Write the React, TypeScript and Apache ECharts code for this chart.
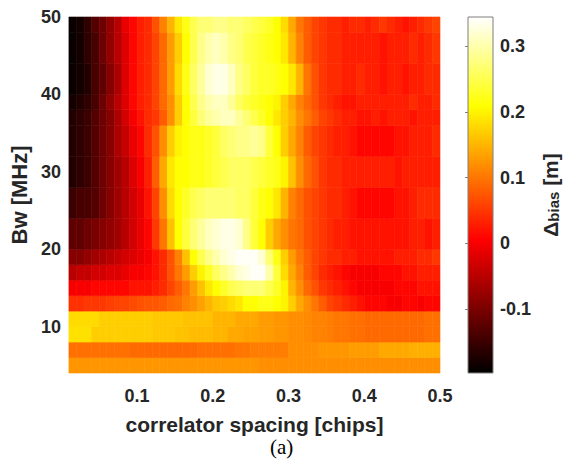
import React, { useEffect, useRef } from "react";
import * as echarts from "echarts";

// column edges (correlator spacing, chips) and row edges (Bw, MHz)
const xEdges = [0.01, 0.02, 0.03, 0.04, 0.05, 0.06, 0.07, 0.08, 0.09, 0.1,
  0.11, 0.12, 0.13, 0.14, 0.15, 0.16, 0.17, 0.18, 0.19, 0.2,
  0.21, 0.22, 0.23, 0.24, 0.25, 0.26, 0.27, 0.28, 0.29, 0.3,
  0.31, 0.32, 0.33, 0.34, 0.35, 0.36, 0.37, 0.38, 0.39, 0.4,
  0.41, 0.42, 0.43, 0.44, 0.45, 0.46, 0.47, 0.48, 0.49, 0.5];
const yEdges = [4, 6, 8, 10, 12, 14, 16, 18, 20, 24, 28, 32, 36, 38, 40, 44, 48, 50];

const xTicks = [0.1, 0.2, 0.3, 0.4, 0.5];
const yTicks = [10, 20, 30, 40, 50];
const cbTicks = [-0.1, 0, 0.1, 0.2, 0.3];
const cMin = -0.197;
const cMax = 0.344;

// Delta_bias [m] per row (row named by its lower Bw edge)
const row04 = [0.125,0.125,0.125,0.125,0.125,0.125,0.125,0.125,0.125,0.125,0.125,0.125,0.125,0.125,0.125,0.125,0.125,0.125,0.125,0.125,0.125,0.125,0.125,0.125,0.125,0.12,0.12,0.12,0.12,0.12,0.12,0.12,0.12,0.12,0.12,0.12,0.12,0.12,0.12,0.12,0.12,0.12,0.12,0.12,0.12,0.12,0.12,0.12,0.12];
const row06 = [0.095,0.095,0.095,0.095,0.095,0.095,0.095,0.095,0.09,0.09,0.09,0.09,0.09,0.09,0.09,0.09,0.09,0.095,0.095,0.095,0.095,0.095,0.1,0.1,0.105,0.105,0.105,0.105,0.105,0.12,0.12,0.12,0.12,0.125,0.125,0.125,0.125,0.13,0.13,0.13,0.13,0.14,0.14,0.14,0.14,0.145,0.145,0.145,0.145];
const row08 = [0.185,0.185,0.185,0.17,0.17,0.17,0.17,0.17,0.17,0.17,0.17,0.165,0.165,0.165,0.16,0.16,0.155,0.155,0.155,0.15,0.15,0.14,0.14,0.135,0.135,0.13,0.13,0.125,0.125,0.12,0.12,0.115,0.11,0.11,0.105,0.1,0.1,0.095,0.095,0.09,0.09,0.09,0.09,0.09,0.09,0.09,0.09,0.095,0.095];
const row10 = [0.18,0.18,0.18,0.18,0.17,0.17,0.17,0.17,0.17,0.17,0.17,0.165,0.165,0.165,0.165,0.16,0.16,0.16,0.16,0.15,0.15,0.15,0.14,0.14,0.14,0.13,0.13,0.125,0.125,0.12,0.12,0.115,0.11,0.11,0.105,0.1,0.1,0.095,0.095,0.09,0.09,0.09,0.09,0.09,0.09,0.09,0.09,0.095,0.095];
const row12 = [0.045,0.045,0.05,0.05,0.05,0.055,0.06,0.06,0.065,0.07,0.075,0.075,0.08,0.09,0.095,0.11,0.12,0.135,0.15,0.165,0.17,0.18,0.19,0.21,0.21,0.22,0.22,0.21,0.2,0.17,0.14,0.12,0.1,0.08,0.06,0.05,0.04,0.03,0.02,0.01,0.01,0.01,0.0,0.0,0.01,0.01,0.0,0.01,0.01];
const row14 = [0.0,0.0,0.0,0.01,0.01,0.01,0.01,0.01,0.02,0.02,0.02,0.03,0.04,0.06,0.08,0.1,0.13,0.16,0.19,0.21,0.23,0.25,0.26,0.27,0.27,0.27,0.25,0.23,0.2,0.15,0.12,0.09,0.07,0.05,0.04,0.03,0.02,0.01,0.0,0.0,0.0,0.0,0.0,0.01,0.01,0.01,0.02,0.02,0.02];
const row16 = [-0.05,-0.04,-0.04,-0.03,-0.03,-0.02,-0.02,-0.01,0.0,0.0,0.01,0.02,0.04,0.07,0.1,0.13,0.17,0.2,0.23,0.26,0.28,0.3,0.32,0.33,0.34,0.34,0.3,0.24,0.18,0.14,0.11,0.08,0.06,0.04,0.03,0.02,0.01,0.0,0.0,0.0,0.0,0.01,0.01,0.01,0.02,0.02,0.03,0.03,0.03];
const row18 = [-0.09,-0.09,-0.08,-0.07,-0.06,-0.05,-0.04,-0.03,-0.02,-0.01,0.0,0.02,0.04,0.07,0.11,0.16,0.21,0.25,0.28,0.3,0.32,0.33,0.34,0.34,0.34,0.32,0.27,0.22,0.17,0.13,0.1,0.08,0.06,0.05,0.04,0.04,0.03,0.03,0.02,0.02,0.02,0.02,0.02,0.03,0.03,0.03,0.04,0.04,0.05];
const row20 = [-0.12,-0.12,-0.11,-0.1,-0.09,-0.08,-0.07,-0.05,-0.03,-0.01,0.01,0.05,0.1,0.16,0.21,0.24,0.27,0.29,0.31,0.32,0.33,0.33,0.32,0.28,0.24,0.21,0.17,0.14,0.12,0.1,0.09,0.07,0.06,0.05,0.04,0.03,0.03,0.02,0.02,0.02,0.02,0.02,0.02,0.02,0.02,0.03,0.03,0.02,0.03];
const row24 = [-0.15,-0.14,-0.14,-0.13,-0.11,-0.09,-0.07,-0.05,-0.03,-0.01,0.02,0.06,0.12,0.18,0.21,0.23,0.25,0.26,0.27,0.27,0.27,0.27,0.26,0.26,0.24,0.22,0.21,0.19,0.15,0.11,0.09,0.07,0.06,0.05,0.04,0.04,0.03,0.02,0.01,0.01,0.01,0.01,0.01,0.02,0.02,0.03,0.04,0.04,0.04];
const row28 = [-0.17,-0.16,-0.15,-0.13,-0.11,-0.09,-0.07,-0.05,-0.02,0.0,0.03,0.08,0.14,0.19,0.21,0.21,0.22,0.22,0.23,0.24,0.25,0.26,0.26,0.26,0.25,0.24,0.23,0.22,0.2,0.16,0.12,0.09,0.07,0.05,0.04,0.04,0.03,0.03,0.03,0.03,0.03,0.03,0.03,0.02,0.03,0.03,0.03,0.03,0.03];
const row32 = [-0.17,-0.16,-0.15,-0.13,-0.11,-0.09,-0.06,-0.04,-0.01,0.01,0.04,0.07,0.12,0.17,0.2,0.21,0.22,0.22,0.23,0.24,0.26,0.27,0.28,0.28,0.29,0.28,0.24,0.21,0.17,0.14,0.11,0.08,0.06,0.05,0.04,0.03,0.03,0.02,0.01,0.01,0.01,0.01,0.01,0.02,0.02,0.03,0.03,0.03,0.04];
const row36 = [-0.17,-0.16,-0.15,-0.13,-0.11,-0.09,-0.06,-0.03,0.0,0.02,0.04,0.05,0.08,0.12,0.17,0.21,0.24,0.27,0.29,0.3,0.31,0.31,0.29,0.27,0.25,0.23,0.21,0.19,0.17,0.15,0.12,0.1,0.08,0.06,0.05,0.04,0.03,0.03,0.02,0.02,0.03,0.02,0.03,0.03,0.03,0.02,0.03,0.03,0.03];
const row38 = [-0.18,-0.17,-0.16,-0.14,-0.11,-0.08,-0.05,-0.02,0.01,0.03,0.04,0.06,0.09,0.12,0.17,0.21,0.25,0.28,0.3,0.31,0.31,0.29,0.26,0.24,0.23,0.22,0.21,0.2,0.17,0.14,0.11,0.09,0.07,0.05,0.04,0.03,0.02,0.02,0.03,0.03,0.03,0.03,0.03,0.03,0.03,0.04,0.03,0.03,0.04];
const row40 = [-0.19,-0.18,-0.17,-0.14,-0.12,-0.09,-0.06,-0.02,0.01,0.03,0.04,0.06,0.09,0.13,0.18,0.22,0.26,0.29,0.32,0.33,0.33,0.31,0.28,0.26,0.24,0.23,0.23,0.22,0.21,0.19,0.15,0.1,0.07,0.05,0.04,0.04,0.03,0.03,0.04,0.03,0.03,0.02,0.03,0.03,0.02,0.03,0.03,0.04,0.04];
const row44 = [-0.19,-0.18,-0.16,-0.14,-0.11,-0.08,-0.05,-0.02,0.01,0.03,0.04,0.06,0.09,0.13,0.17,0.21,0.25,0.28,0.3,0.31,0.3,0.28,0.27,0.25,0.24,0.23,0.22,0.21,0.19,0.15,0.11,0.08,0.06,0.05,0.04,0.04,0.03,0.03,0.03,0.03,0.03,0.02,0.03,0.03,0.03,0.04,0.03,0.04,0.05];
const row48 = [-0.19,-0.18,-0.16,-0.13,-0.11,-0.08,-0.05,-0.01,0.01,0.03,0.04,0.07,0.11,0.15,0.19,0.22,0.25,0.27,0.27,0.28,0.28,0.27,0.27,0.26,0.25,0.24,0.23,0.21,0.18,0.14,0.1,0.08,0.06,0.05,0.04,0.04,0.03,0.04,0.04,0.03,0.04,0.05,0.04,0.03,0.02,0.03,0.04,0.05,0.06];

const rows = [row04, row06, row08, row10, row12, row14, row16, row18, row20, row24, row28, row32, row36, row38, row40, row44, row48];

// MATLAB "hot" colormap, evenly spaced stops
const hotColors = ["#000000", "#550000", "#aa0000", "#ff0000", "#ff5500", "#ffaa00", "#ffff00", "#ffff80", "#ffffff"];

const TXT = "#262626";
const FONT = "'Liberation Sans', Arial, Helvetica, sans-serif";

export default function App() {
  const ref = useRef<HTMLDivElement>(null);

  useEffect(() => {
    if (!ref.current) return;
    const chart = echarts.init(ref.current, undefined, { renderer: "svg" });

    const cells: number[][] = [];
    rows.forEach((vals, r) => {
      vals.forEach((v, c) => {
        cells.push([xEdges[c], xEdges[c + 1], yEdges[r], yEdges[r + 1], v]);
      });
    });

    const stops = hotColors.map((color, i) => ({ offset: i / (hotColors.length - 1), color }));

    chart.setOption({
      animation: false,
      backgroundColor: "#ffffff",
      textStyle: { fontFamily: FONT },
      grid: [
        { left: 63, top: 17, width: 377, height: 356 },
        { left: 468, top: 17, width: 25, height: 356 },
      ],
      xAxis: [
        {
          type: "value",
          gridIndex: 0,
          min: xEdges[0],
          max: xEdges[xEdges.length - 1],
          axisLine: { show: false },
          axisTick: { show: false },
          splitLine: { show: false },
          axisLabel: {
            customValues: xTicks,
            formatter: (v: number) => String(v),
            color: TXT,
            fontSize: 18,
            fontWeight: "bold",
            fontFamily: FONT,
            margin: 14,
          },
          name: "correlator spacing [chips]",
          nameLocation: "middle",
          nameGap: 41,
          nameTextStyle: { color: TXT, fontSize: 21, fontWeight: "bold", fontFamily: FONT },
        },
        {
          type: "value",
          gridIndex: 1,
          min: 0,
          max: 1,
          show: false,
        },
      ],
      yAxis: [
        {
          type: "value",
          gridIndex: 0,
          min: yEdges[0],
          max: yEdges[yEdges.length - 1],
          axisLine: { show: false },
          axisTick: { show: false },
          splitLine: { show: false },
          axisLabel: {
            customValues: yTicks,
            color: TXT,
            fontSize: 18,
            fontWeight: "bold",
            fontFamily: FONT,
            margin: 8,
          },
          name: "Bw [MHz]",
          nameLocation: "middle",
          nameRotate: 90,
          nameGap: 35,
          nameTextStyle: { color: TXT, fontSize: 22, fontWeight: "bold", fontFamily: FONT },
        },
        {
          type: "value",
          gridIndex: 1,
          position: "right",
          min: cMin,
          max: cMax,
          axisLine: { show: false },
          splitLine: { show: false },
          axisTick: {
            show: true,
            inside: true,
            length: 3,
            customValues: cbTicks,
            lineStyle: { color: "#7f7f7f", width: 1 },
          },
          axisLabel: {
            customValues: cbTicks,
            formatter: (v: number) => String(v),
            color: TXT,
            fontSize: 18,
            fontWeight: "bold",
            fontFamily: FONT,
            margin: 7,
          },
          name: "{d|Δ}{s|bias}{d| [m]}",
          nameLocation: "middle",
          nameRotate: 90,
          nameGap: 47,
          nameTextStyle: {
            color: TXT,
            fontFamily: FONT,
            rich: {
              d: { fontSize: 21, fontWeight: "bold", color: TXT, fontFamily: FONT, lineHeight: 21, verticalAlign: "top" },
              s: { fontSize: 15, fontWeight: "bold", color: TXT, fontFamily: FONT, lineHeight: 15, verticalAlign: "bottom", padding: [10, 0, 0, 0] },
            },
          },
        },
      ],
      visualMap: {
        type: "continuous",
        show: false,
        min: cMin,
        max: cMax,
        dimension: 4,
        seriesIndex: 0,
        inRange: { color: hotColors },
      },
      series: [
        {
          type: "custom",
          xAxisIndex: 0,
          yAxisIndex: 0,
          encode: { x: [0, 1], y: [2, 3] },
          data: cells,
          renderItem: (params: any, api: any) => {
            const p0 = api.coord([api.value(0), api.value(2)]);
            const p1 = api.coord([api.value(1), api.value(3)]);
            const c = api.visual("color");
            return {
              type: "rect",
              shape: { x: p0[0], y: p1[1], width: p1[0] - p0[0], height: p0[1] - p1[1] },
              style: { fill: c, stroke: c, lineWidth: 0.6 },
            };
          },
        },
        {
          type: "custom",
          xAxisIndex: 1,
          yAxisIndex: 1,
          encode: { x: [0, 1], y: [2, 3] },
          data: [[0, 1, cMin, cMax]],
          renderItem: (params: any, api: any) => {
            const p0 = api.coord([api.value(0), api.value(2)]);
            const p1 = api.coord([api.value(1), api.value(3)]);
            return {
              type: "rect",
              shape: { x: p0[0], y: p1[1], width: p1[0] - p0[0], height: p0[1] - p1[1] },
              style: {
                fill: new echarts.graphic.LinearGradient(0, 1, 0, 0, stops),
                stroke: "#7f7f7f",
                lineWidth: 1,
              },
            };
          },
        },
      ],
      graphic: [
        {
          type: "text",
          left: 270,
          top: 436,
          style: {
            text: "(a)",
            fill: "#000000",
            fontSize: 21,
            fontFamily: "'Liberation Serif', 'Times New Roman', serif",
          },
        },
      ],
    });

    return () => chart.dispose();
  }, []);

  return (
    <div
      ref={ref}
      style={{ position: "fixed", left: 0, top: 0, width: 568, height: 467, background: "#fff" }}
    />
  );
}
